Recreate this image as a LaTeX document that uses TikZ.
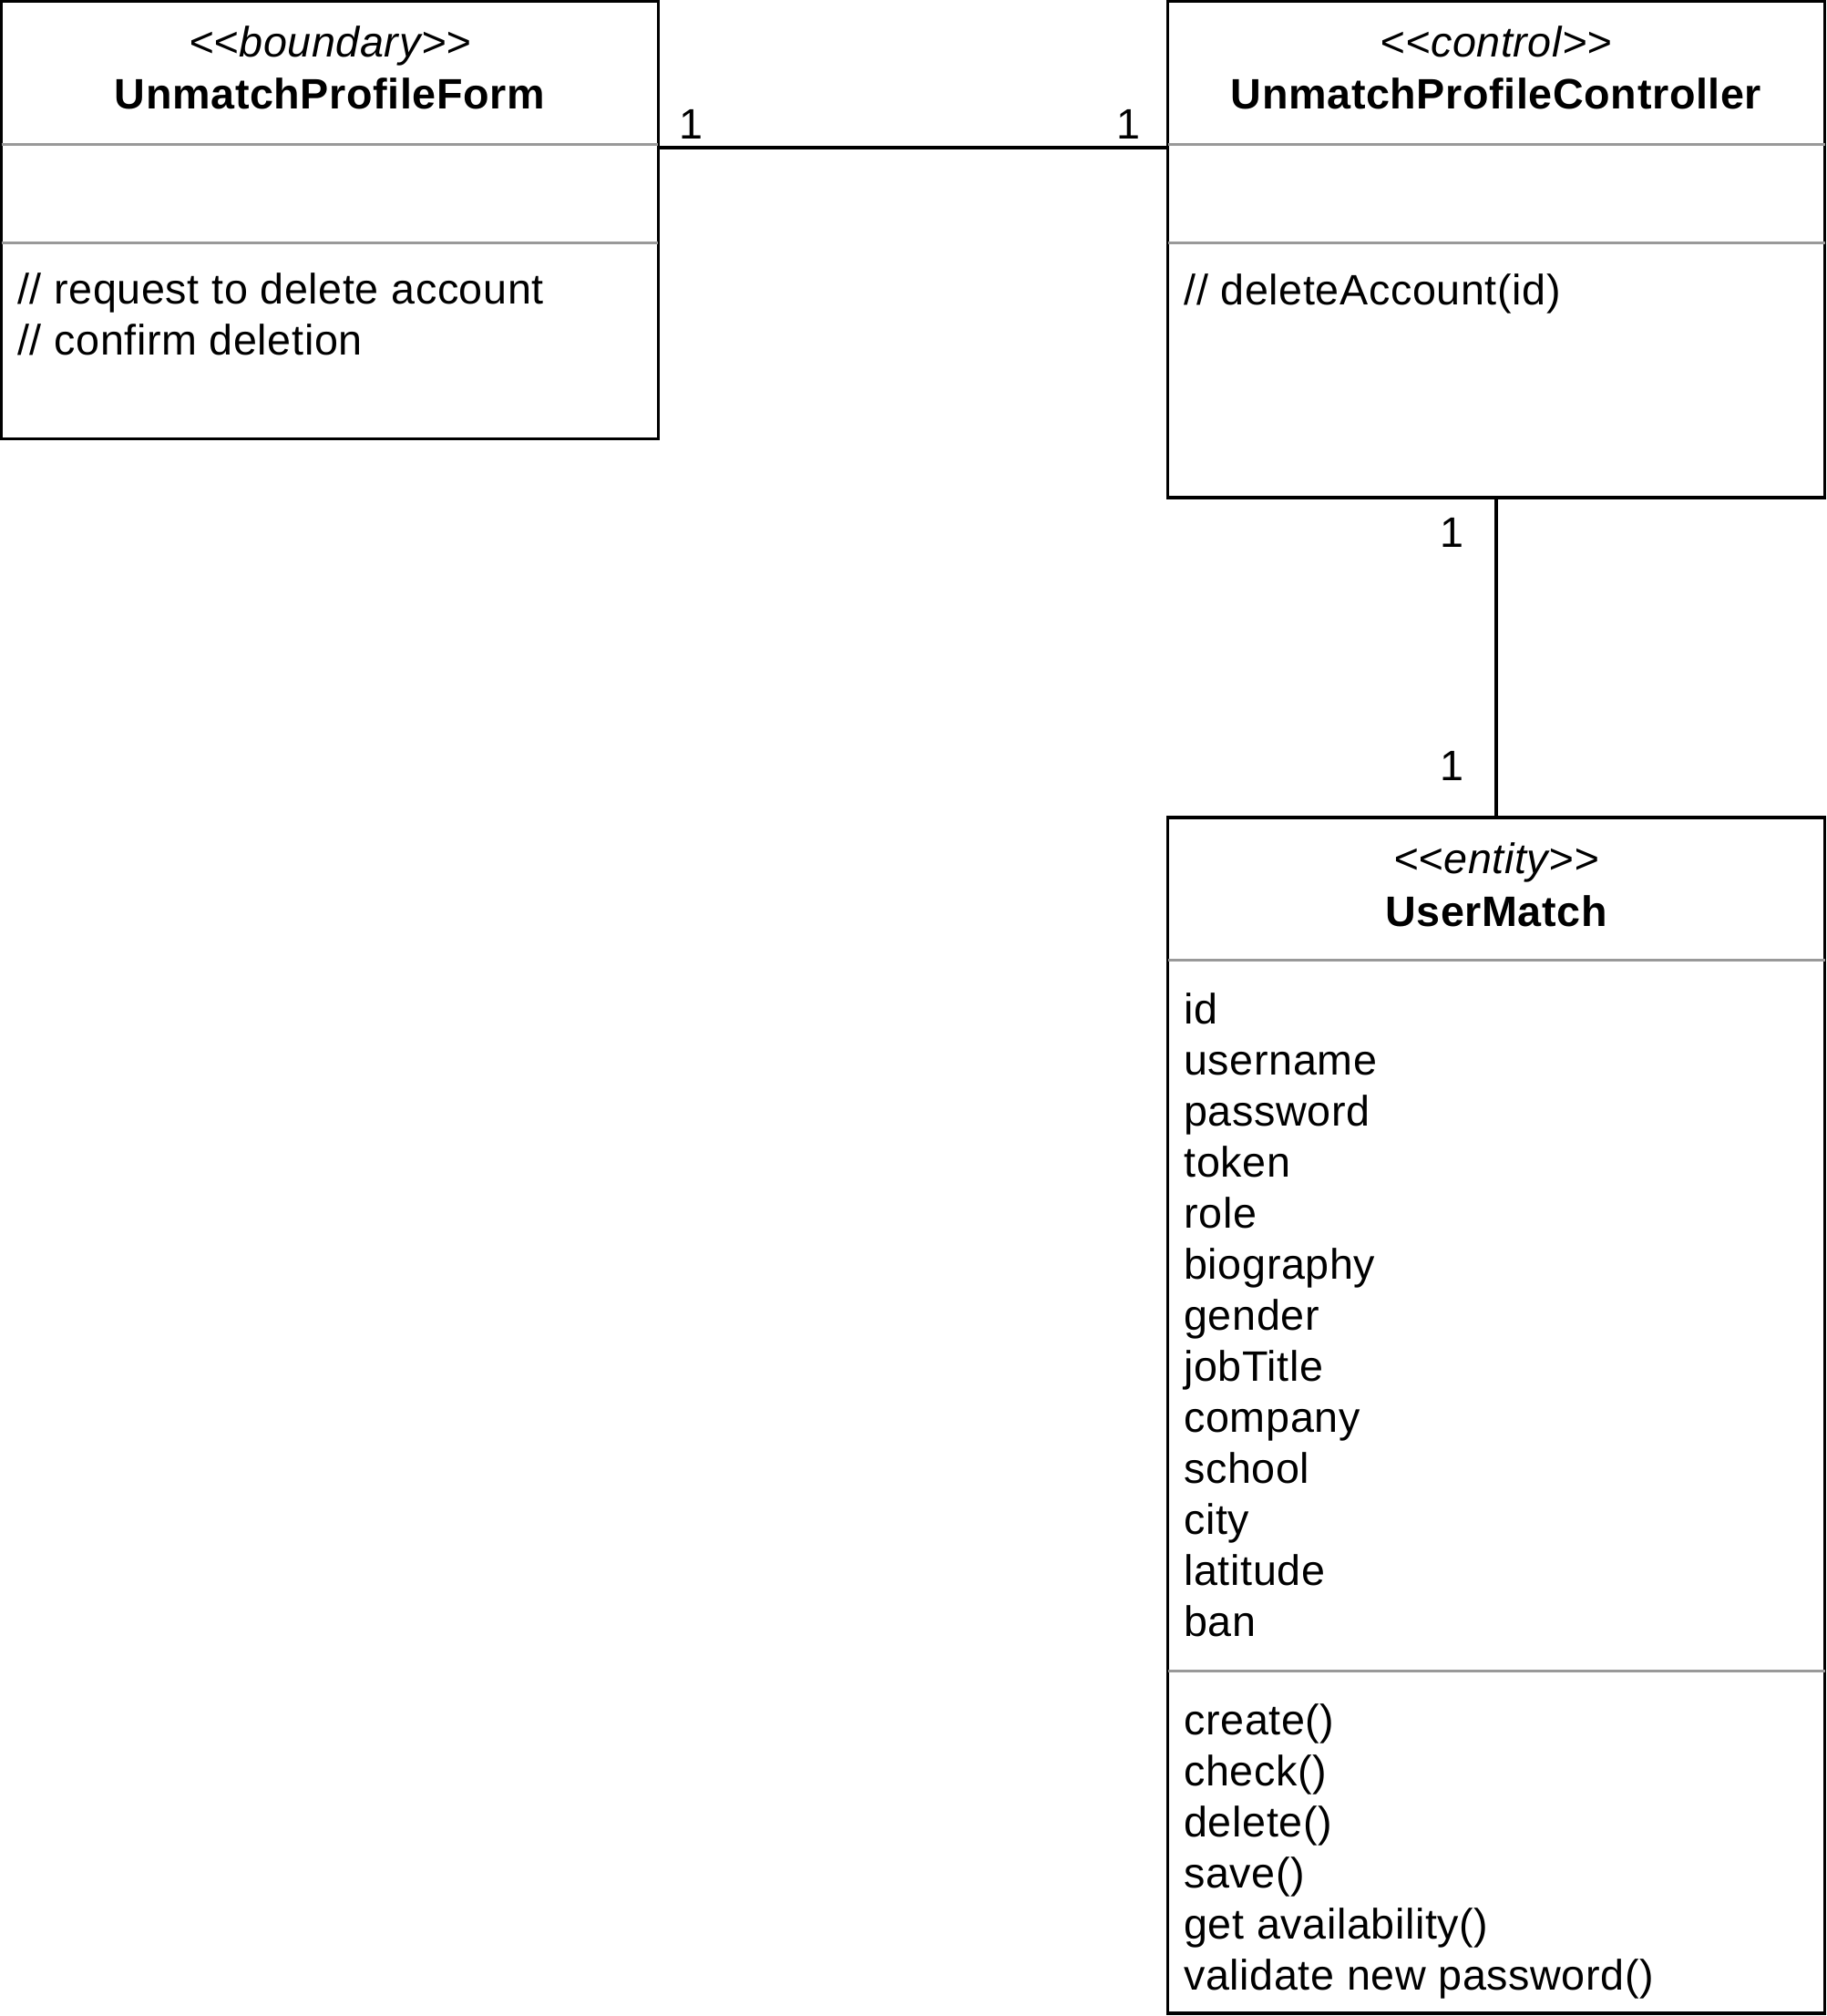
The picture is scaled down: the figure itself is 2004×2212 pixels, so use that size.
\documentclass[tikz,border=0pt]{standalone}
\usepackage{fontspec}
\setmainfont{Liberation Sans}[LetterSpace=1.3]
\definecolor{sepgray}{HTML}{999999}
\newcommand\umlfs{\fontsize{23.35pt}{28pt}\selectfont}
\newcommand\lsg{<\kern0pt<}
\newcommand\rsg{>\kern0pt>}
\begin{document}
\begin{tikzpicture}[x=0.5pt,y=-0.5pt,
  umlbox/.style={draw=black, line width=1.65pt, rectangle, inner sep=0pt, outer sep=0pt},
  sepline/.style={draw=sepgray, line width=1.5pt},
  assoc/.style={draw=black, line width=1.65pt},
  txt/.style={inner sep=0pt, anchor=base west, font=\umlfs},
  ttl/.style={inner sep=0pt, anchor=base, font=\umlfs\bfseries},
  ster/.style={inner sep=0pt, anchor=base, font=\umlfs\itshape},
  mult/.style={inner sep=0pt, anchor=base, font=\umlfs}]
\useasboundingbox (0,0) rectangle (2004,2212);

% boxes
\node[umlbox, minimum width=360.25pt, minimum height=239.75pt] (form) at (362,241.5) {};
\node[umlbox, minimum width=360.5pt, minimum height=272.125pt] (ctrl) at (1642,273.875) {};
\node[umlbox, minimum width=360.5pt, minimum height=656pt] (ent) at (1642,1553) {};

% separator levels
\coordinate (s1) at (0,158);
\coordinate (s2) at (0,266);
\coordinate (s3) at (0,1053);
\coordinate (s4) at (0,1833);
\draw[sepline] (form.west |- s1) -- (form.east |- s1);
\draw[sepline] (form.west |- s2) -- (form.east |- s2);
\draw[sepline] (ctrl.west |- s1) -- (ctrl.east |- s1);
\draw[sepline] (ctrl.west |- s2) -- (ctrl.east |- s2);
\draw[sepline] (ent.west |- s3) -- (ent.east |- s3);
\draw[sepline] (ent.west |- s4) -- (ent.east |- s4);

% headers
\node[ster] (formst) at (362,62) {\lsg boundary\rsg};
\node[ttl] (formtt) at (362,119) {UnmatchProfileForm};
\node[ster] (ctrlst) at (1642,62) {\lsg control\rsg};
\node[ttl] (ctrltt) at (1642,119) {UnmatchProfileController};
\node[ster] (entst) at (1642,958) {\lsg entity\rsg};
\node[ttl] (enttt) at (1642,1016) {UserMatch};

% operations
\node[txt] (fop1) at (19,333) {// request to delete account};
\node[txt] (fop2) at (19,389) {// confirm deletion};
\node[txt] (cop1) at (1299,334) {// deleteAccount(id)};

% attributes of UserMatch
\foreach \t [count=\i] in {id,username,password,token,role,biography,gender,jobTitle,company,school,city,latitude,ban}
  \node[txt] (attr\i) at (1299,{1123+56*(\i-1)}) {\t};
\foreach \t [count=\i] in {create(),check(),delete(),save(),get availability(),validate new password()}
  \node[txt] (meth\i) at (1299,{1903+56*(\i-1)}) {\t};

% associations
\coordinate (hy) at (0,162);
\draw[assoc] (form.east |- hy) -- (ctrl.west |- hy);
\draw[assoc] (ctrl.south) -- (ent.north);

% multiplicities
\node[mult] (m1) at (758,152) {1};
\node[mult] (m2) at (1238,152) {1};
\node[mult] (m3) at (1593,600) {1};
\node[mult] (m4) at (1593,856) {1};
\end{tikzpicture}
\end{document}
